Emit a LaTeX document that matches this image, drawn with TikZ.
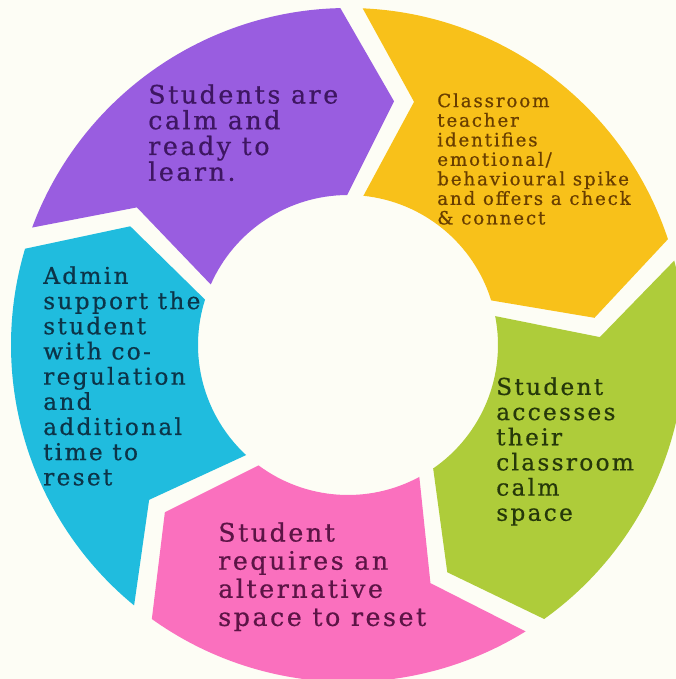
\documentclass[tikz,border=0pt]{standalone}
\usepackage{fontspec}
\setmainfont{DejaVu Serif}[LetterSpace=10,FakeBold=0.6]
\usepackage{xcolor}
\usepackage{tikz}
\usetikzlibrary{positioning,calc}
\definecolor{cream}{RGB}{253,253,245}
\definecolor{calmpurple}{RGB}{153,93,224}
\definecolor{spikeyellow}{RGB}{248,193,26}
\definecolor{spacegreen}{RGB}{174,204,58}
\definecolor{altpink}{RGB}{250,112,190}
\definecolor{admincyan}{RGB}{32,188,222}
\definecolor{purpletext}{RGB}{62,22,98}
\definecolor{yellowtext}{RGB}{105,62,0}
\definecolor{greentext}{RGB}{38,56,10}
\definecolor{pinktext}{RGB}{92,20,70}
\definecolor{cyantext}{RGB}{12,52,72}
\tikzset{
    lbl/.style={anchor=north west,align=left,inner sep=0pt},
    bigtxt/.style={font=\fontsize{18}{18.3}\selectfont},
    alttxt/.style={font=\fontsize{18}{20}\selectfont},
    midtxt/.style={font=\fontsize{16.5}{17.9}\selectfont},
    smalltxt/.style={font=\fontsize{13}{13.9}\selectfont},
}

\begin{document}
\begin{tikzpicture}[x=0.025cm,y=0.025cm]
\useasboundingbox (-348,-334) rectangle (328,345);
\clip (-348,-334) rectangle (328,345);
\fill[cream] (-348,-334) rectangle (328,345);
% ring pieces: start tip / end tip / colour
\foreach \s/\e/\col in {151.4/79.3/calmpurple, 79.3/6.3/spikeyellow, 6.3/-66.4/spacegreen,
    -66.4/-137.6/altpink, -137.6/-208.6/admincyan}{
  \fill[\col] (\s+8.2:337) arc[start angle=\s+8.2, end angle=\e+12, radius=337]
    -- (\e:248) -- (\e+11:150) arc[start angle=\e+11, end angle=\s+4.8, radius=150]
    -- (\s-4.5:252) -- cycle;
}
\node[lbl,bigtxt,text=purpletext] (calm) at (-200,261) {Students are\\calm and\\ready to\\learn.};
\node[lbl,smalltxt,text=yellowtext] (spike) at (89,252) {Classroom\\teacher\\identifies\\emotional/\\behavioural spike\\and offers a check\\\& connect};
\node[lbl,midtxt,text=greentext] (space) at (148,-32) {Student\\accesses\\their\\classroom\\calm\\space};
\node[lbl,alttxt,text=pinktext] (alt) at (-130,-177) {Student\\requires an\\alternative\\space to reset};
\node[lbl,midtxt,text=cyantext] (admin) at (-305,79) {Admin\\support the\\student\\with co-\\regulation\\and\\additional\\time to\\reset};
\end{tikzpicture}
\end{document}
